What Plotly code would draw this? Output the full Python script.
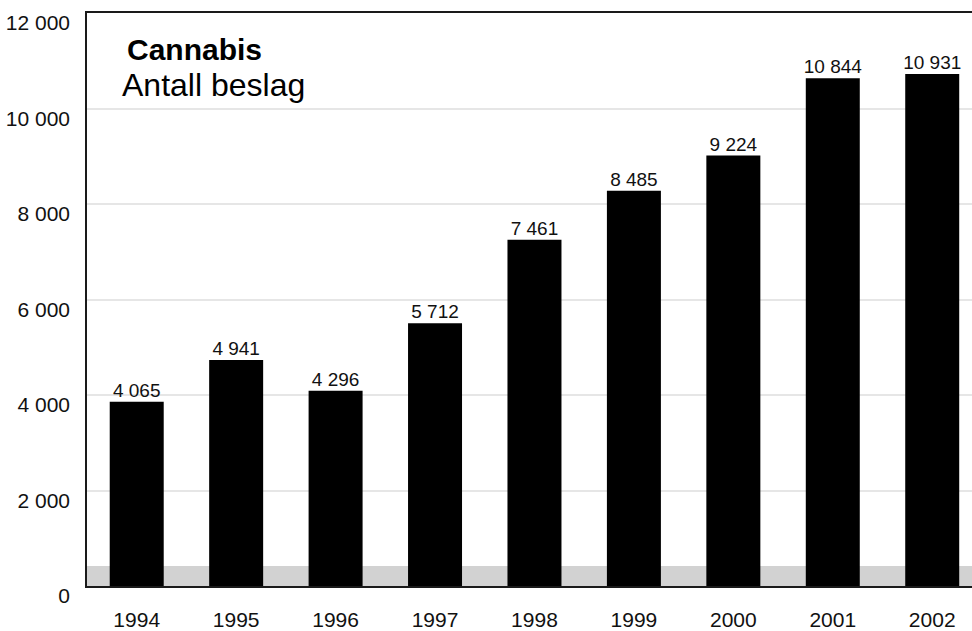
import plotly.graph_objects as go

# Seizures of cannabis per year
years = ["1994", "1995", "1996", "1997", "1998", "1999", "2000", "2001", "2002"]
seizures = [4065, 4941, 4296, 5712, 7461, 8485, 9224, 10844, 10931]

y_ticks = [0, 2000, 4000, 6000, 8000, 10000, 12000]

title_main = "Cannabis"
title_sub = "Antall beslag"

FONT = "Liberation Sans, Arial, Helvetica, sans-serif"

fig = go.Figure()

fig.add_trace(
    go.Bar(
        x=years,
        y=seizures,
        yaxis="y2",
        width=0.543,
        marker=dict(color="#000000", line=dict(width=0)),
        hoverinfo="x+y",
    )
)

# value labels sitting just above each bar
fig.add_trace(
    go.Scatter(
        x=years,
        y=seizures,
        yaxis="y2",
        mode="text",
        text=seizures,
        texttemplate="%{y:,d}",
        textposition="top center",
        textfont=dict(family=FONT, size=19, color="#111111"),
        cliponaxis=False,
        hoverinfo="skip",
    )
)

# light grey floor band behind the bars
fig.add_shape(
    type="rect",
    xref="paper",
    yref="y",
    x0=0,
    x1=1,
    y0=0,
    y1=417,
    fillcolor="#d2d2d2",
    line=dict(width=0),
    layer="below",
)

fig.add_annotation(
    text="<b>" + title_main + "</b>",
    xref="paper", yref="paper",
    x=0.0435, y=0.936,
    xanchor="left", yanchor="middle",
    showarrow=False,
    font=dict(family=FONT, size=30, color="#000000"),
)
fig.add_annotation(
    text=title_sub,
    xref="paper", yref="paper",
    x=0.037, y=0.875,
    xanchor="left", yanchor="middle",
    showarrow=False,
    font=dict(family=FONT, size=32, color="#000000"),
)

fig.update_layout(
    width=972,
    height=631,
    margin=dict(l=87, r=0, t=13, b=42),
    paper_bgcolor="#ffffff",
    plot_bgcolor="#ffffff",
    separators=", ",
    showlegend=False,
    font=dict(family=FONT, size=21, color="#111111"),
    xaxis=dict(
        type="category",
        range=[-0.5, 8.4],
        showline=True,
        linecolor="#1a1a1a",
        linewidth=2,
        mirror=True,
        ticks="",
        showgrid=False,
        ticklabelstandoff=14,
        tickfont=dict(family=FONT, size=21, color="#111111"),
    ),
    yaxis=dict(
        range=[0, 12000],
        tickvals=y_ticks,
        tickformat=",d",
        showline=True,
        linecolor="#1a1a1a",
        linewidth=1.5,
        ticks="",
        showgrid=True,
        gridcolor="#e6e6e6",
        gridwidth=1.5,
        zeroline=False,
        ticklabelshift=10,
        ticklabelstandoff=11,
        tickfont=dict(family=FONT, size=21, color="#111111"),
    ),
    yaxis2=dict(
        overlaying="y",
        range=[208.3, 12208.3],
        showticklabels=False,
        showgrid=False,
        showline=False,
        zeroline=False,
        ticks="",
    ),
)

fig.write_html("out.html")
